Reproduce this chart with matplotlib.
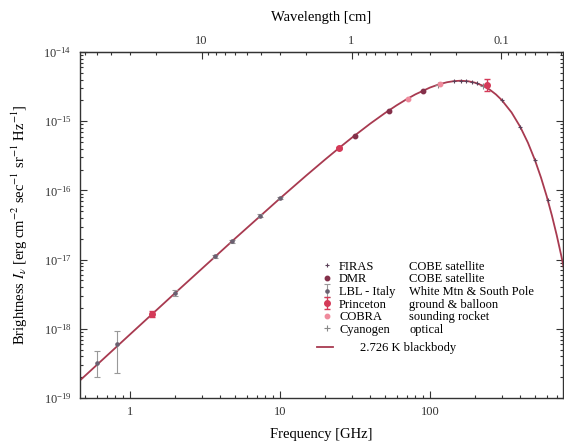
import numpy as np
import matplotlib.pyplot as plt
from matplotlib.lines import Line2D
from matplotlib.ticker import FuncFormatter, NullFormatter

plt.rcParams['font.family'] = ['Liberation Serif', 'DejaVu Serif']
plt.rcParams['mathtext.fontset'] = 'stix'

# 2.726 K blackbody (GHz, erg cm^-2 s^-1 sr^-1 Hz^-1)
bb_freq = [0.4, 1, 2, 5, 10, 15, 20, 25, 30, 40, 50, 60, 70, 80, 100, 115, 130, 145,
           160, 180, 200, 225, 250, 275, 300, 350, 400, 450, 500, 550, 600, 650,
           700, 750, 800, 900, 1000]
bb_bright = [1.336e-19, 8.30e-19, 3.292e-18, 2.003e-17, 7.662e-17, 1.647e-16, 2.796e-16,
             4.17e-16, 5.724e-16, 9.233e-16, 1.306e-15, 1.699e-15, 2.083e-15, 2.445e-15,
             3.063e-15, 3.414e-15, 3.658e-15, 3.798e-15, 3.844e-15, 3.778e-15, 3.598e-15,
             3.264e-15, 2.864e-15, 2.443e-15, 2.037e-15, 1.338e-15, 8.274e-16, 4.884e-16,
             2.778e-16, 1.532e-16, 8.258e-17, 4.349e-17, 2.256e-17, 1.150e-17, 5.798e-18,
             1.422e-18, 3.358e-19]

firas_freq = [145, 160, 175, 190, 205, 300, 400, 500, 610]
firas_bright = [3.80e-15, 3.84e-15, 3.81e-15, 3.70e-15, 3.54e-15, 2.04e-15, 8.27e-16,
                2.78e-16, 7.27e-17]

dmr_freq = [31.5, 53, 90]
dmr_bright = [6.1e-16, 1.40e-15, 2.72e-15]

lbl_freq = [0.6, 0.82, 2.0, 3.7, 4.8, 7.4, 10.0]
lbl_bright = [3.2e-19, 6.0e-19, 3.3e-18, 1.11e-17, 1.85e-17, 4.3e-17, 7.7e-17]
lbl_low = [2.0e-19, 2.3e-19, 3.0e-18, 1.05e-17, 1.75e-17, 4.1e-17, 7.4e-17]
lbl_high = [4.8e-19, 9.3e-19, 3.6e-18, 1.17e-17, 1.95e-17, 4.5e-17, 8.0e-17]

princeton_freq = [1.41, 24.8, 240]
princeton_bright = [1.65e-18, 4.1e-16, 3.3e-15]
princeton_low = [1.50e-18, 3.9e-16, 2.7e-15]
princeton_high = [1.80e-18, 4.3e-16, 4.1e-15]

cobra_freq = [71, 117]
cobra_bright = [2.12e-15, 3.45e-15]

cyanogen_freq = [113, 227]
cyanogen_bright = [3.37e-15, 3.23e-15]

names = ['FIRAS', 'DMR', 'LBL - Italy', 'Princeton', 'COBRA', 'Cyanogen']
descriptions = ['COBE satellite', 'COBE satellite', 'White Mtn & South Pole',
                'ground & balloon', 'sounding rocket', 'optical']

freq_ticks = [1, 10, 100]
wavelength_ticks = [10, 1, 0.1]
bright_ticks = [1e-19, 1e-18, 1e-17, 1e-16, 1e-15, 1e-14]

fig = plt.figure(figsize=(5.64, 4.47), dpi=100)
ax = fig.add_axes([80 / 564, 1 - 398 / 447, 483 / 564, 346 / 447])
ax.set_xscale('log')
ax.set_yscale('log')

line, = ax.plot(bb_freq, bb_bright, color='#a83a50', lw=1.3, zorder=2)

cy, = ax.plot(cyanogen_freq, cyanogen_bright, '+', color='#888888', ms=4, mew=0.8, zorder=3)
fi, = ax.plot(firas_freq, firas_bright, '+', color='#5a4058', ms=3, mew=0.8, zorder=4)
co, = ax.plot(cobra_freq, cobra_bright, 'o', color='#ef8a9c', ms=3.2, zorder=4)
dm, = ax.plot(dmr_freq, dmr_bright, 'o', color='#84304a', ms=3.2, zorder=4)

lbl_b = np.array(lbl_bright)
lb = ax.errorbar(lbl_freq, lbl_bright,
                 yerr=[lbl_b - np.array(lbl_low), np.array(lbl_high) - lbl_b],
                 fmt='o', color='#6a6070', ecolor='#999999', ms=2.3, elinewidth=0.8,
                 capsize=2, capthick=0.8, zorder=4)
pr_b = np.array(princeton_bright)
pr = ax.errorbar(princeton_freq, princeton_bright,
                 yerr=[pr_b - np.array(princeton_low), np.array(princeton_high) - pr_b],
                 fmt='o', color='#d43a58', ms=4, elinewidth=1.0, capsize=2,
                 capthick=1.0, zorder=5)

ax.set_xlim(0.464, 771)
ax.set_ylim(1e-19, 1e-14)
ax.set_xticks(freq_ticks)
ax.set_yticks(bright_ticks)

fmt = FuncFormatter(lambda v, p: '%g' % v)
ax.xaxis.set_major_formatter(fmt)
ax.xaxis.set_minor_formatter(NullFormatter())
ax.yaxis.set_minor_formatter(NullFormatter())
ax.tick_params(which='both', direction='in', top=False, right=True, labelsize=9,
               width=0.8, colors='#333333')
ax.tick_params(which='major', length=5)
ax.tick_params(which='minor', length=2.5)
ax.tick_params(axis='x', pad=6)
ax.tick_params(axis='y', pad=6)
for s in ax.spines.values():
    s.set_linewidth(1.0)
    s.set_color('#333333')


def nu2lam(x):
    x = np.asarray(x, dtype=float)
    with np.errstate(divide='ignore'):
        return 29.9792458 / x


sec = ax.secondary_xaxis('top', functions=(nu2lam, nu2lam))
sec.set_xticks(wavelength_ticks)
sec.xaxis.set_major_formatter(fmt)
sec.xaxis.set_minor_formatter(NullFormatter())
sec.tick_params(which='both', direction='in', labelsize=9, width=0.8, colors='#333333')
sec.tick_params(which='major', length=5)
sec.tick_params(which='minor', length=2.5)
sec.spines['top'].set_color('#333333')
sec.set_xlabel('Wavelength [cm]', fontsize=10.5, labelpad=10)

ax.set_xlabel('Frequency [GHz]', fontsize=10.5, labelpad=7)
ax.set_ylabel(r'Brightness $I_\nu$ [erg cm$^{-2}$ sec$^{-1}$ sr$^{-1}$ Hz$^{-1}$]',
              fontsize=10.5, labelpad=10)

blank = Line2D([], [], linestyle='none')
leg = ax.legend([fi, dm, lb, pr, co, cy] + [blank] * 6, names + descriptions,
                ncol=2, loc='upper left', bbox_to_anchor=(0.49, 0.415), frameon=False,
                fontsize=9, handlelength=0.7, handletextpad=0.6, columnspacing=-0.2,
                labelspacing=0.05, borderpad=0, numpoints=1)
ax.add_artist(leg)
ax.legend([line], ['2.726 K blackbody'], loc='upper left', bbox_to_anchor=(0.477, 0.18),
          frameon=False, fontsize=9, handlelength=1.3, handletextpad=2.2, borderpad=0)

fig.savefig('out.png', dpi=100)
